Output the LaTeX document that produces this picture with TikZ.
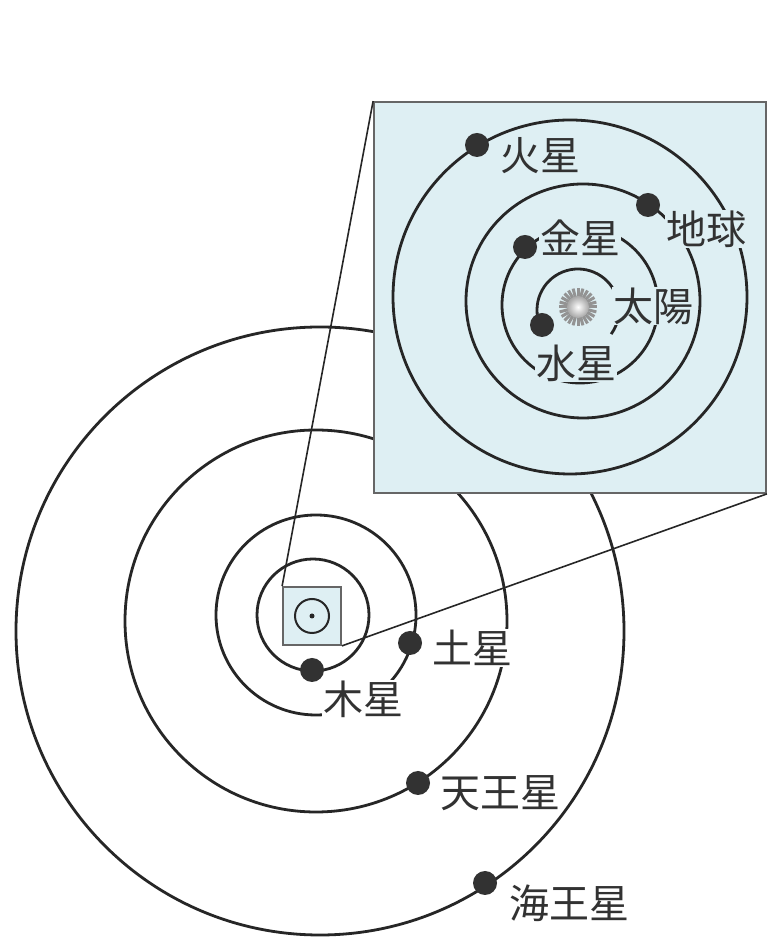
\documentclass[tikz,border=0pt]{standalone}
\usepackage{xcolor}
\usepackage{fontspec}
\usepackage{tikz}
\usetikzlibrary{positioning,calc}
\newfontfamily\jpfont{Noto Sans CJK JP}
\definecolor{insetblue}{RGB}{222,239,243}
\definecolor{orbitgray}{RGB}{38,38,38}
\definecolor{planetgray}{RGB}{50,50,50}
\tikzset{
    solar_orbit/.style={line width=2.8pt, draw=orbitgray},
    solar_planet/.style={circle, fill=planetgray, minimum size=24pt, inner sep=0pt},
    solar_label/.style={fill=white, inner sep=1pt, text=planetgray, font=\jpfont\fontsize{40}{44}\selectfont},
    % labels inside the close-up sit on the blue fill
    solar_label_inset/.style={solar_label, fill=insetblue},
    solar_box/.style={draw=gray!80!black, line width=1.8pt, fill=insetblue, inner sep=0pt},
    solar_link/.style={line width=1.6pt, draw=orbitgray},
    % Sun: grey disc with short radial spikes
    solar_sun/.pic={
        \foreach \a in {0,15,...,345} \draw[line width=3pt, gray!85] (\a:8pt) -- (\a:19pt);
        \shade[inner color=white, outer color=gray!70] (0,0) circle (11pt);
    },
}

\begin{document}
\begin{tikzpicture}[x=1pt, y=1pt]
    \fill[white] (0,0) rectangle (769,944);
    \useasboundingbox (0,0) rectangle (769,944);

    % Outer orbits: Neptune, Uranus, Saturn, Jupiter
    \draw[solar_orbit] (320,313) circle (304pt);
    \draw[solar_orbit] (316,323) circle (191pt);
    \draw[solar_orbit] (316,329) circle (100pt);
    \draw[solar_orbit] (313,329) circle (56pt);

    % Small frame around the inner system
    \node[solar_box, minimum size=58pt] (centre) at (312,328) {};
    \draw[line width=2pt, draw=orbitgray] (centre) circle (17pt);
    \fill[orbitgray] (centre) circle (2.5pt);

    % Close-up of the inner system
    \node[solar_box, minimum width=392pt, minimum height=391pt] (inset) at (570,646.5) {};
    \draw[solar_link] (centre.north west) -- (inset.north west);
    \draw[solar_link] (centre.south east) -- (inset.south east);

    % Inner orbits: Mars, Earth, Venus, Mercury
    \draw[solar_orbit] (570,647) circle (177pt);
    \draw[solar_orbit] (583,643) circle (117pt);
    \draw[solar_orbit] (580,639) circle (78pt);
    \draw[solar_orbit] (578,634) ++(202:41pt) arc[start angle=202, end angle=-36, radius=41pt];
    \pic at (578,637) {solar_sun};

    % Names (filled, so they cut the orbits behind them)
    \node[solar_label_inset] (marsname)    at (540,788) {火星};
    \node[solar_label_inset] (earthname)   at (706,715) {地球};
    \node[solar_label_inset] (venusname)   at (580,706) {金星};
    \node[solar_label_inset] (sunname)     at (653,638) {太陽};
    \node[solar_label_inset] (mercuryname) at (576,581) {水星};
    \node[solar_label] (jupitername)  at (363,245) {木星};
    \node[solar_label] (saturnname)   at (472,296) {土星};
    \node[solar_label] (uranusname)   at (500,151) {天王星};
    \node[solar_label] (neptunename)  at (569,41)  {海王星};

    % Planets
    \node[solar_planet] (mars)    at (477,799) {};
    \node[solar_planet] (earth)   at (648,739) {};
    \node[solar_planet] (venus)   at (525,697) {};
    \node[solar_planet] (mercury) at (542,619) {};
    \node[solar_planet] (jupiter) at (312,274) {};
    \node[solar_planet] (saturn)  at (410,301) {};
    \node[solar_planet] (uranus)  at (418,161) {};
    \node[solar_planet] (neptune) at (485,61)  {};
\end{tikzpicture}
\end{document}
